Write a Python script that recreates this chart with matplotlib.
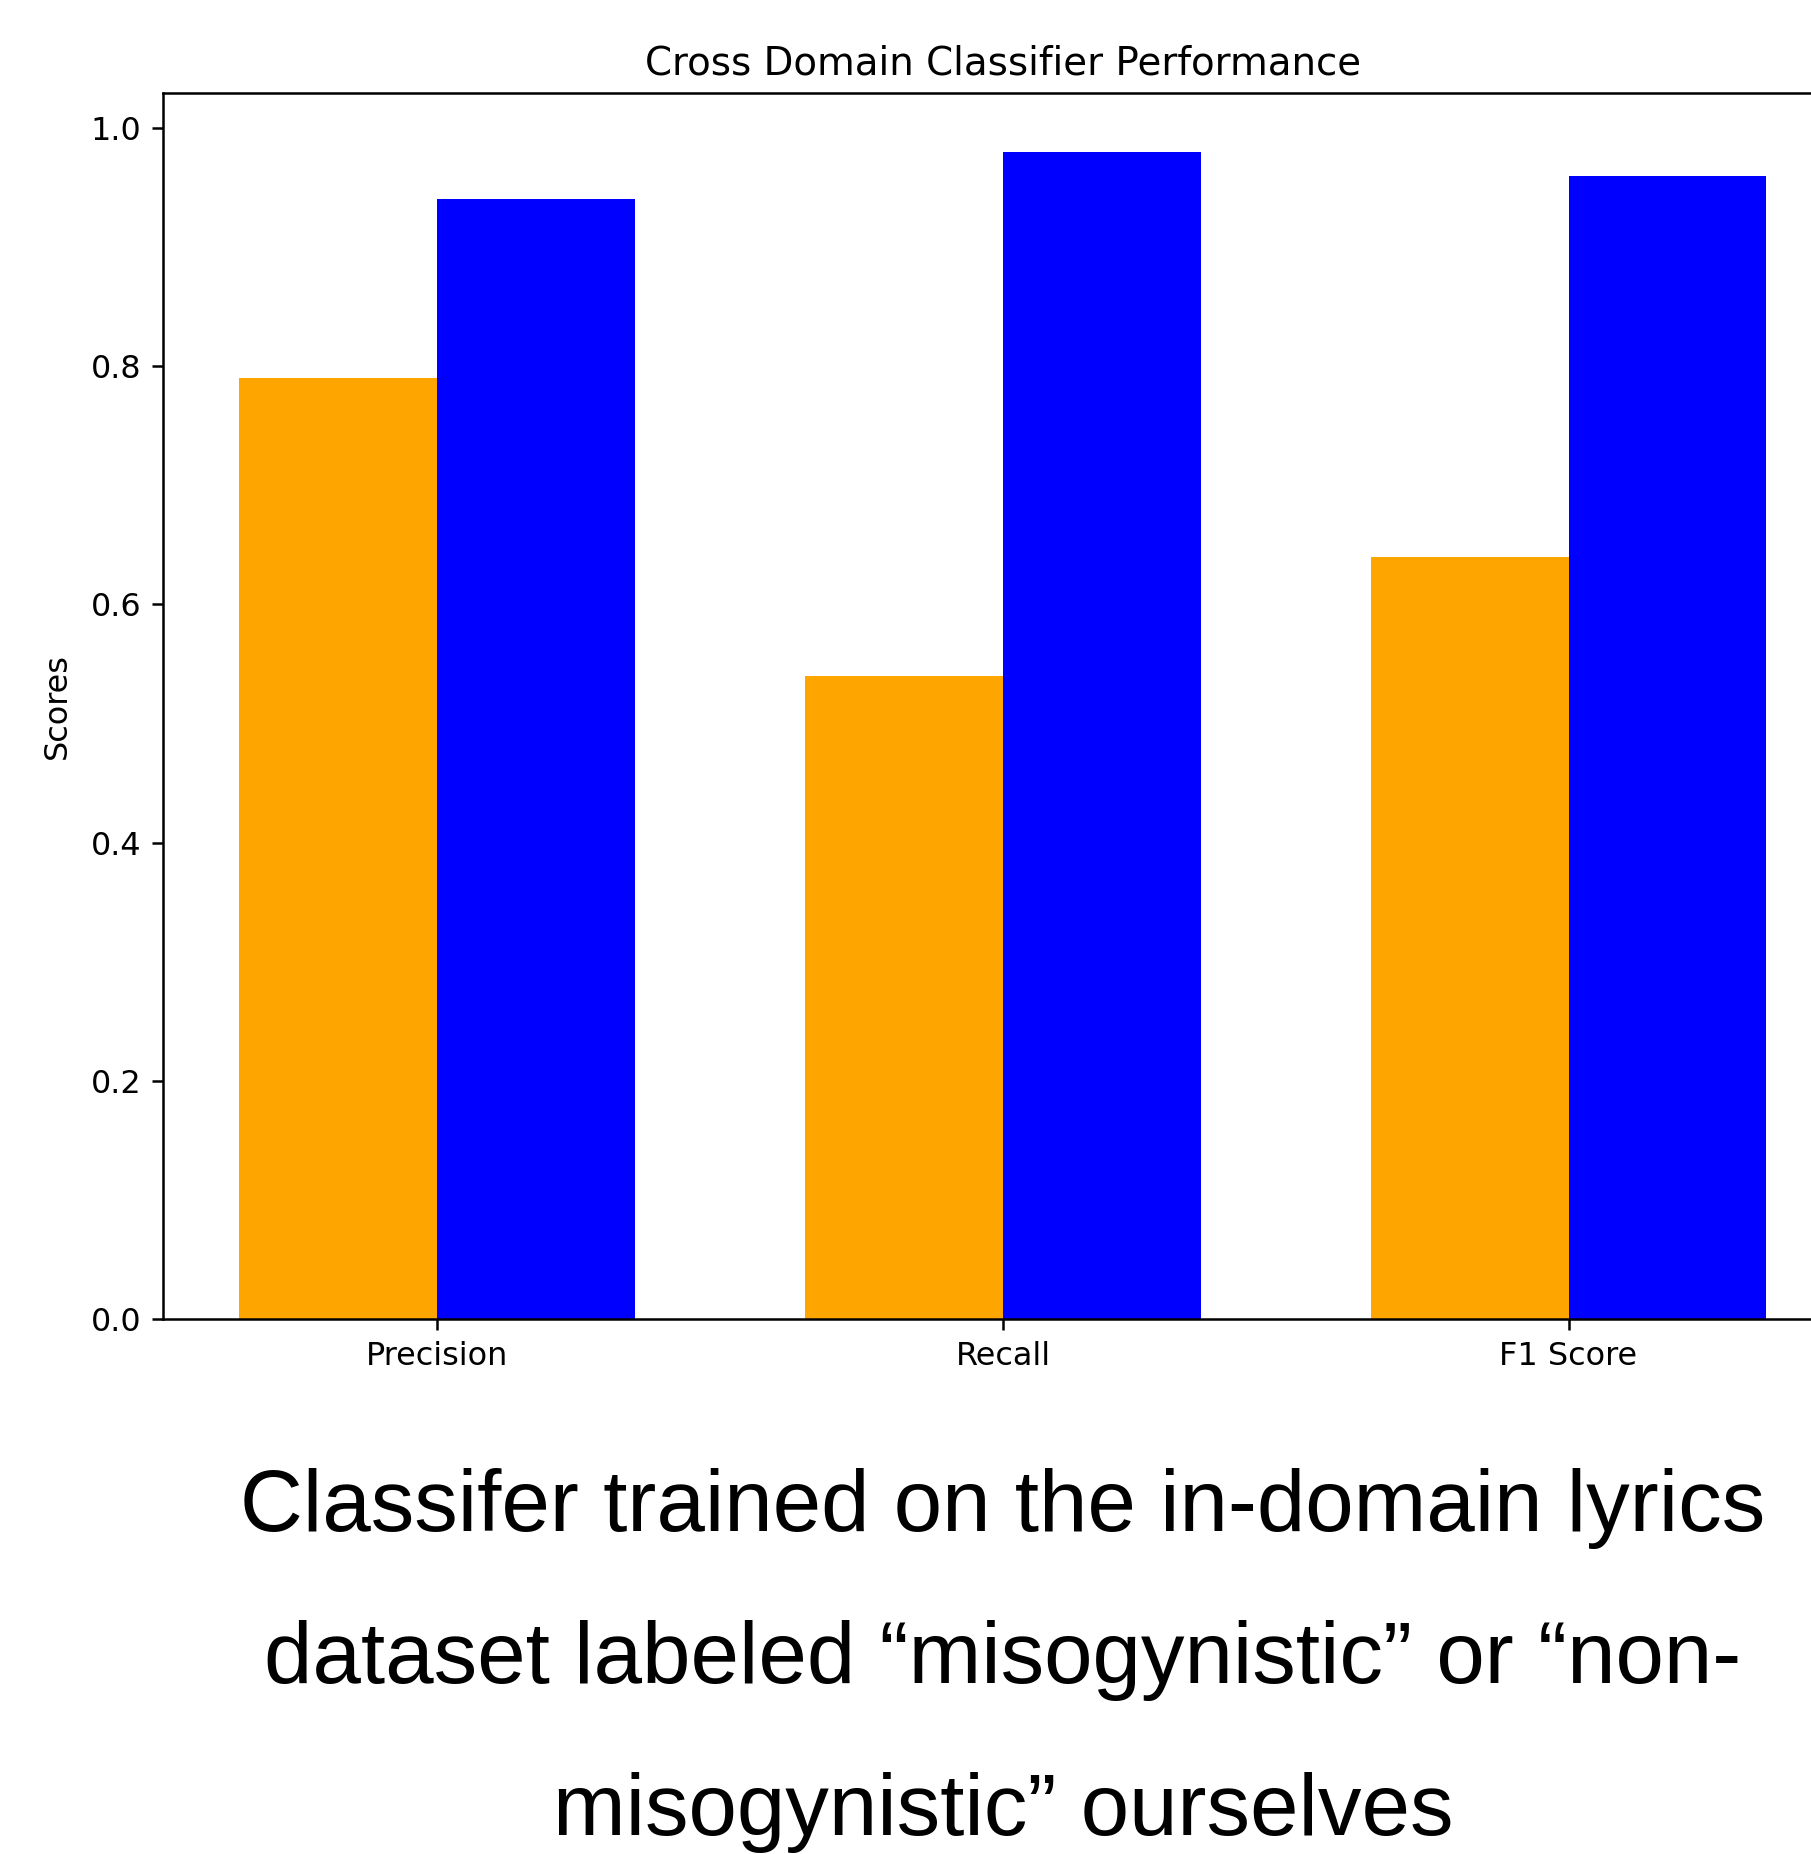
import numpy as np
import matplotlib
matplotlib.use('Agg')
import matplotlib.pyplot as plt

# scores
metrics = ['Precision', 'Recall', 'F1 Score']
cross_domain = [0.79, 0.54, 0.64]
in_domain = [0.94, 0.98, 0.96]
caption = ['Classifer trained on the in-domain lyrics',
           'dataset labeled \u201cmisogynistic\u201d or \u201cnon-',
           'misogynistic\u201d ourselves']

dpi = 225
fig = plt.figure(figsize=(1812 / dpi, 1854 / dpi), dpi=dpi)
left, width_ax = 0.0900, 0.9270
ax = fig.add_axes([left, 0.2886, width_ax, 0.661])

x = np.arange(len(metrics))
width = 0.35
ax.bar(x - width / 2, cross_domain, width, color='orange')
ax.bar(x + width / 2, in_domain, width, color='blue')

ax.set_xticks(x)
ax.set_xticklabels(metrics)
ax.tick_params(labelsize=10.2)
ax.set_ylabel('Scores', fontsize=10.2, labelpad=5.5)
ax.set_title('Cross Domain Classifier Performance', fontsize=12.4)

# caption under the plot, centred on the axes
cx = left + width_ax / 2
for i, line in enumerate(caption):
    fig.text(cx, 1 - (1531 + i * 152) / 1854, line, ha='center', va='baseline',
             fontsize=27.9, family='Liberation Sans', color='black')

fig.savefig('out.png', dpi=dpi)
